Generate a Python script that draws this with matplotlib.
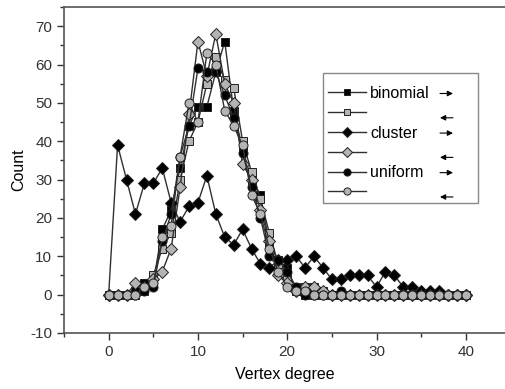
import matplotlib
matplotlib.use("Agg")
import matplotlib.pyplot as plt
from matplotlib.ticker import MultipleLocator
from matplotlib.patches import Rectangle, FancyArrowPatch

plt.rcParams['font.family'] = ['Liberation Sans', 'DejaVu Sans']
plt.rcParams['axes.unicode_minus'] = False

degree = list(range(0, 41))

binomial = [0, 0, 0, 1, 3, 3, 17, 22, 33, 44, 49, 49, 58, 66, 48, 38, 30, 26, 13, 9,
            7, 1, 0, 0, 0, 0, 0, 0, 0, 0, 0, 0, 0, 0, 0, 0, 0, 0, 0, 0, 0]
binomial_b = [0, 0, 0, 0, 1, 5, 12, 16, 30, 40, 45, 55, 62, 56, 54, 40, 32, 25, 16, 8,
              4, 2, 2, 2, 1, 0, 0, 0, 0, 0, 0, 0, 0, 0, 0, 0, 0, 0, 0, 0, 0]
cluster = [0, 39, 30, 21, 29, 29, 33, 24, 19, 23, 24, 31, 21, 15, 13, 17, 12, 8, 7, 9,
           9, 10, 7, 10, 7, 4, 4, 5, 5, 5, 2, 6, 5, 2, 2, 1, 1, 1, 0, 0, 0]
cluster_b = [0, 0, 0, 3, 2, 4, 6, 12, 28, 47, 66, 57, 68, 55, 50, 34, 30, 22, 14, 5,
             3, 1, 2, 2, 1, 0, 0, 0, 0, 0, 0, 0, 0, 0, 0, 0, 0, 0, 0, 0, 0]
uniform = [0, 0, 0, 0, 1, 2, 14, 21, 36, 44, 59, 58, 58, 52, 46, 37, 28, 20, 10, 9,
           6, 2, 0, 0, 0, 0, 1, 0, 0, 0, 0, 0, 0, 0, 0, 0, 0, 0, 0, 0, 0]
uniform_b = [0, 0, 0, 0, 2, 3, 15, 18, 36, 50, 45, 63, 60, 48, 44, 39, 26, 21, 12, 6,
             2, 1, 1, 0, 0, 0, 0, 0, 0, 0, 0, 0, 0, 0, 0, 0, 0, 0, 0, 0, 0]

labels = ["binomial", "", "cluster", "", "uniform", ""]
xlabel = "Vertex degree"
ylabel = "Count"

W, H = 506, 389
fig = plt.figure(figsize=(W / 100, H / 100), dpi=100)
ax = fig.add_axes([0.1265, 0.144, 0.8735, 0.838])

black = '#000000'
gray = '#b4b4b4'
line_c = '#303030'

series = [
    (binomial, 's', black, 6.0),
    (binomial_b, 's', gray, 6.0),
    (cluster, 'D', black, 6.0),
    (cluster_b, 'D', gray, 6.0),
    (uniform, 'o', black, 6.5),
    (uniform_b, 'o', gray, 6.5),
]
handles = []
for vals, mk, fc, ms in series:
    h, = ax.plot(degree, vals, color=line_c, lw=1.0, marker=mk, markersize=ms,
                 markerfacecolor=fc, markeredgecolor='#202020', markeredgewidth=0.7)
    handles.append(h)

ax.set_xlim(-5, 44.5)
ax.set_ylim(-10, 75)
ax.xaxis.set_major_locator(MultipleLocator(10))
ax.xaxis.set_minor_locator(MultipleLocator(5))
ax.yaxis.set_major_locator(MultipleLocator(10))
ax.yaxis.set_minor_locator(MultipleLocator(5))
ax.set_yticks(range(-10, 71, 10))
ax.tick_params(which='both', direction='out', labelsize=11, colors='#333333')
ax.tick_params(which='major', length=5, width=1)
ax.tick_params(which='minor', length=3, width=1)
ax.spines['right'].set_visible(False)
for s in ['left', 'bottom', 'top']:
    ax.spines[s].set_color('#555555')
    ax.spines[s].set_linewidth(1.2)

ax.set_xlabel(xlabel, fontsize=11.5, labelpad=6)
ax.set_ylabel(ylabel, fontsize=11.5, labelpad=3)

# legend frame (pixel coords of the image, y downward)
fx0, fy0, fx1, fy1 = 323, 73, 478, 203
fig.patches.append(Rectangle((fx0 / W, 1 - fy1 / H), (fx1 - fx0) / W, (fy1 - fy0) / H,
                             transform=fig.transFigure, fill=True, facecolor='white',
                             edgecolor='#888888', lw=1.0, zorder=4))

leg = fig.legend(handles, labels, loc='upper left',
                 bbox_to_anchor=(328 / W, 1 - 86 / H), bbox_transform=fig.transFigure,
                 fontsize=11.5, frameon=False, markerscale=0.8,
                 handlelength=2.35, handletextpad=0.3, labelspacing=0.3,
                 borderpad=0, borderaxespad=0)
leg.set_zorder(5)

# direction arrows next to the legend entries
fig.canvas.draw()
texts = leg.get_texts()
inv = fig.transFigure.inverted()
for i, t in enumerate(texts):
    tb = t.get_window_extent()
    yc = (tb.y0 + tb.y1) / 2
    x0, x1 = 440, 453
    if i % 2 == 0:
        start, end = (x0, yc), (x1, yc)
    else:
        start, end = (x1, yc), (x0, yc)
    fig.add_artist(FancyArrowPatch(
        inv.transform(start), inv.transform(end), transform=fig.transFigure,
        arrowstyle='-|>', color='black', lw=0.8, mutation_scale=8,
        shrinkA=0, shrinkB=0, zorder=6))

fig.savefig('out.png', dpi=100)
